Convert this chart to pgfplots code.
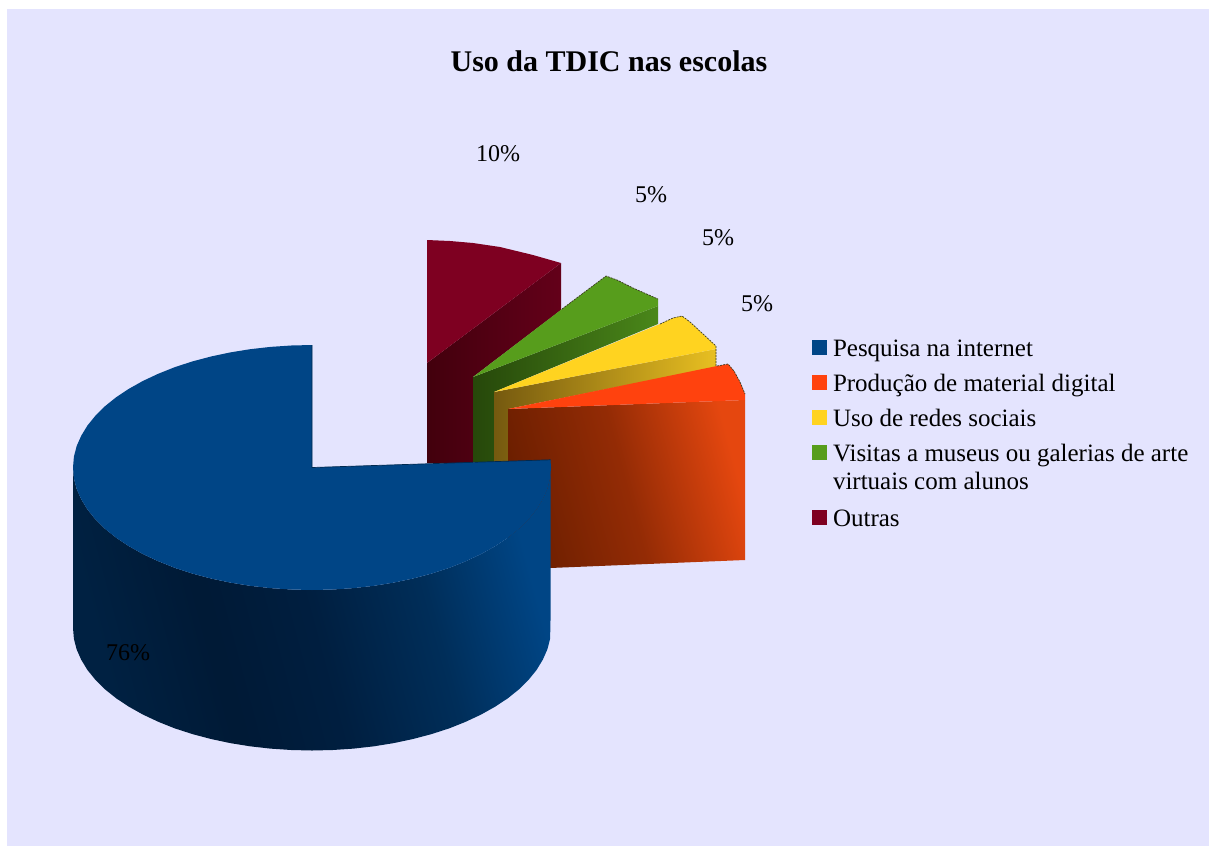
\documentclass[border=0pt]{standalone}
\usepackage{fontspec}
\setmainfont{Liberation Serif}
\usepackage{pgfplots}
\pgfplotsset{compat=1.18}

\definecolor{panel}{HTML}{E4E4FE}
\definecolor{cblue}{HTML}{004586}
\definecolor{corange}{HTML}{FF420E}
\definecolor{cyellow}{HTML}{FFD320}
\definecolor{cgreen}{HTML}{579D1C}
\definecolor{cred}{HTML}{7E0021}
\definecolor{rimdark}{HTML}{3A3A20}

% side walls of the slices, lit from the upper right
\pgfdeclarehorizontalshading{wallblue}{100bp}{rgb(0bp)=(0,.13,.26); rgb(25bp)=(0,.13,.26); rgb(38bp)=(0,.10,.21); rgb(50bp)=(0,.12,.25); rgb(63bp)=(0,.18,.35); rgb(75bp)=(0,.27,.52); rgb(100bp)=(0,.27,.52)}
\pgfdeclarehorizontalshading{wallorange}{100bp}{rgb(0bp)=(.42,.12,0); rgb(25bp)=(.42,.12,0); rgb(50bp)=(.58,.17,.02); rgb(75bp)=(.90,.28,.06); rgb(100bp)=(.90,.28,.06)}
\pgfdeclarehorizontalshading{wallyellow}{100bp}{rgb(0bp)=(.46,.35,.06); rgb(25bp)=(.46,.35,.06); rgb(75bp)=(.91,.75,.13); rgb(100bp)=(.91,.75,.13)}
\pgfdeclarehorizontalshading{wallgreen}{100bp}{rgb(0bp)=(.15,.28,.04); rgb(25bp)=(.15,.28,.04); rgb(75bp)=(.29,.53,.10); rgb(100bp)=(.29,.53,.10)}
\pgfdeclarehorizontalshading{wallred}{100bp}{rgb(0bp)=(.26,0,.05); rgb(25bp)=(.26,0,.05); rgb(75bp)=(.39,0,.10); rgb(100bp)=(.39,0,.10)}

\newcommand{\labelfont}{\fontsize{24}{28}\selectfont}
\newcommand{\legendfont}{\fontsize{25}{28}\selectfont}

% each swatch reserves the height of its legend row
\pgfplotsset{
  row swatch/.style={legend image code/.code={\fill[##1,draw=none] (0pt,1pt) rectangle (15pt,16pt); \path[fill=none,draw=none] (0pt,-15pt) rectangle (15pt,20pt);}},
  tall swatch/.style={legend image code/.code={\fill[##1,draw=none] (0pt,1pt) rectangle (15pt,16pt); \path[fill=none,draw=none] (0pt,-45pt) rectangle (15pt,20pt);}},
}

\begin{document}
\begin{tikzpicture}
\begin{axis}[
  scale only axis, width=1209pt, height=846pt,
  xmin=0, xmax=1209, ymin=0, ymax=846, y dir=reverse,
  axis lines=none, ticks=none,
  title={\fontsize{30}{34}\selectfont\bfseries Uso da TDIC nas escolas},
  title style={at={(axis description cs:0.5037,0.9208)}, anchor=center},
  legend style={at={(axis cs:812,336)}, anchor=north west, draw=none, fill=none,
    inner sep=0pt, outer sep=0pt, row sep=0pt,
    nodes={inner sep=0pt, outer sep=0pt, anchor=base west}},
  legend cell align=left,
]
% page and chart panel
\addplot[forget plot, fill=white, draw=none] coordinates {(0,0) (1209,0) (1209,846) (0,846)} --cycle;
\addplot[forget plot, fill=panel, draw=none] coordinates {(7,9) (1209,9) (1209,846) (7,846)} --cycle;

% Outras
\addplot[forget plot, shading=wallred, draw=none] coordinates {(427,363) (561,263) (561,310) (473,377) (473,463) (427,463)} --cycle;
\addplot[forget plot, fill=cred, draw=none] coordinates {(427,240) (450,241) (473,243) (500,247) (533,255) (561,263) (427,363)} --cycle;

% Visitas a museus
\addplot[forget plot, shading=wallgreen, draw=none] coordinates {(473,377) (658,306) (658,324) (494,392) (494,462) (473,462)} --cycle;
\addplot[forget plot, fill=cgreen, draw=none] coordinates {(473,377) (562,309) (606,276) (617,280) (633,288) (658,299) (658,306)} --cycle;
\addplot[forget plot, rimdark, line width=.7pt, dash pattern=on 2pt off 1pt] coordinates {(562,309) (606,276) (617,280) (633,288) (658,299)};

% Uso de redes sociais
\addplot[forget plot, shading=wallyellow, draw=none] coordinates {(494,392) (716,349) (716,367) (508,409) (508,462) (494,462)} --cycle;
\addplot[forget plot, fill=cyellow, draw=none] coordinates {(494,392) (660,324) (673,318) (682,316) (690,322) (716,346) (716,349)} --cycle;
\addplot[forget plot, rimdark, line width=.7pt, dash pattern=on 2pt off 1pt] coordinates {(660,324) (673,318) (682,316) (690,322) (716,346) (716,366)};

% Producao de material digital
\addplot[forget plot, shading=wallorange, shading angle=15, draw=none] coordinates {(508,409) (745,400) (745,560) (550,568) (508,568)} --cycle;
\addplot[forget plot, fill=corange, draw=none] coordinates {(508,409) (717,366) (728,364) (734,371) (740,382) (745,394) (745,400)} --cycle;
\addplot[forget plot, rimdark, line width=.7pt, dash pattern=on 2pt off 1pt] coordinates {(717,366) (728,364) (734,371) (740,382) (745,394)};

% Pesquisa na internet: wall, then top face
\addplot[forget plot, shading=wallblue, shading angle=15, draw=none] coordinates {
  (73,467.5) (73.9,478.2) (76.6,488.8) (81.2,499.2) (87.4,509.4) (95.4,519.3) (105,528.8) (116.2,537.8) (128.9,546.2) (143,554.1)
  (158.4,561.3) (174.9,567.9) (192.5,573.6) (211,578.5) (230.3,582.6) (250.1,585.8) (270.4,588.1) (291.2,589.5) (312,590)
  (332.8,589.5) (353.6,588.1) (373.9,585.8) (393.7,582.6) (413,578.5) (431.5,573.6) (449.1,567.9) (465.6,561.3) (481,554.1)
  (495.1,546.2) (507.8,537.8) (519,528.8) (528.6,519.3) (536.6,509.4) (542.8,499.2) (547.4,488.8) (550.1,478.2) (551,467.5) (550.5,459.8)
  (550.5,620.3) (550.1,638.7) (547.4,649.3) (542.8,659.7) (536.6,669.9) (528.6,679.8) (519,689.3) (507.8,698.3) (495.1,706.7)
  (481,714.6) (465.6,721.8) (449.1,728.4) (431.5,734.1) (413,739) (393.7,743.1) (373.9,746.3) (353.6,748.6) (332.8,750)
  (312,750.5) (291.2,750) (270.4,748.6) (250.1,746.3) (230.3,743.1) (211,739) (192.5,734.1) (174.9,728.4) (158.4,721.8) (143,714.6)
  (128.9,706.7) (116.2,698.3) (105,689.3) (95.4,679.8) (87.4,669.9) (81.2,659.7) (76.6,649.3) (73.9,638.7) (73,628)
} --cycle;
\addplot[forget plot, fill=cblue, draw=none] coordinates {
  (312,345) (291.2,345.5) (270.4,346.9) (250.1,349.2) (230.3,352.4) (211,356.5) (192.5,361.4) (174.9,367.1) (158.4,373.7) (143,380.9)
  (128.9,388.8) (116.2,397.2) (105,406.2) (95.4,415.7) (87.4,425.6) (81.2,435.8) (76.6,446.2) (73.9,456.8) (73,467.5)
  (73.9,478.2) (76.6,488.8) (81.2,499.2) (87.4,509.4) (95.4,519.3) (105,528.8) (116.2,537.8) (128.9,546.2) (143,554.1)
  (158.4,561.3) (174.9,567.9) (192.5,573.6) (211,578.5) (230.3,582.6) (250.1,585.8) (270.4,588.1) (291.2,589.5) (312,590)
  (332.8,589.5) (353.6,588.1) (373.9,585.8) (393.7,582.6) (413,578.5) (431.5,573.6) (449.1,567.9) (465.6,561.3) (481,554.1)
  (495.1,546.2) (507.8,537.8) (519,528.8) (528.6,519.3) (536.6,509.4) (542.8,499.2) (547.4,488.8) (550.1,478.2) (551,467.5) (550.5,459.8)
  (312,467.5)
} --cycle;
\addplot[forget plot, color=cblue!60!black, line width=.7pt] coordinates {(312,345) (312,467.5) (550.5,459.8)};

% value labels
\node[anchor=center] at (axis cs:498,154) {\labelfont 10\%};
\node[anchor=center] at (axis cs:651,195) {\labelfont 5\%};
\node[anchor=center] at (axis cs:718,238) {\labelfont 5\%};
\node[anchor=center] at (axis cs:757,304) {\labelfont 5\%};
\node[anchor=center] at (axis cs:128,653) {\labelfont 76\%};

% legend
\addlegendimage{fill=cblue, row swatch}
\addlegendentry{\hspace{6pt}\legendfont Pesquisa na internet}
\addlegendimage{fill=corange, row swatch}
\addlegendentry{\hspace{6pt}\legendfont Produção de material digital}
\addlegendimage{fill=cyellow, row swatch}
\addlegendentry{\hspace{6pt}\legendfont Uso de redes sociais}
\addlegendimage{fill=cgreen, tall swatch}
\addlegendentry{\hspace{6pt}\parbox[t]{370pt}{\legendfont Visitas a museus ou galerias de arte\\[0pt]\rule{0pt}{20pt}virtuais com alunos}}
\addlegendimage{fill=cred, row swatch}
\addlegendentry{\hspace{6pt}\legendfont Outras}
\end{axis}
\end{tikzpicture}
\end{document}
